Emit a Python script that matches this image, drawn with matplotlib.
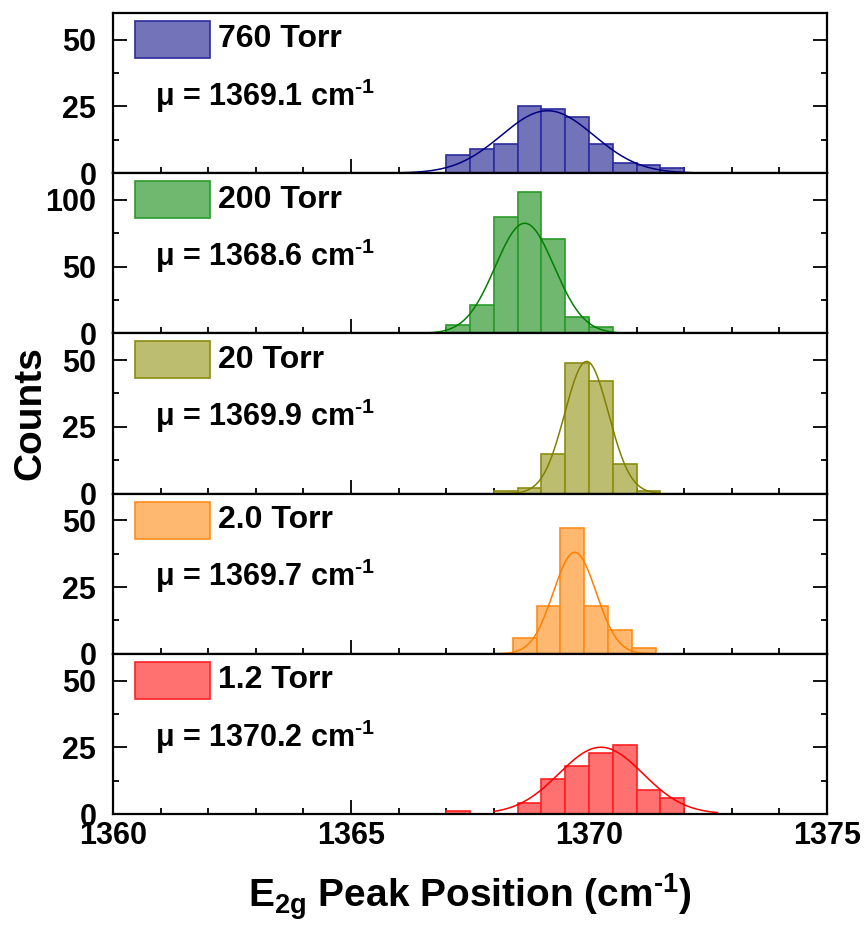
import numpy as np
import matplotlib
matplotlib.use("Agg")
import matplotlib.pyplot as plt
from matplotlib.patches import Rectangle
from matplotlib.ticker import MultipleLocator

plt.rcParams['font.family'] = ['Liberation Sans', 'DejaVu Sans']
plt.rcParams['font.weight'] = 'bold'
plt.rcParams['mathtext.fontset'] = 'custom'
plt.rcParams['mathtext.rm'] = 'Liberation Sans:bold'
plt.rcParams['mathtext.it'] = 'Liberation Sans:bold'
plt.rcParams['mathtext.bf'] = 'Liberation Sans:bold'
plt.rcParams['mathtext.default'] = 'rm'

# ---- data ----
labels = ["760 Torr", "200 Torr", "20 Torr", "2.0 Torr", "1.2 Torr"]
mu_text = ["1369.1", "1368.6", "1369.9", "1369.7", "1370.2"]

centers_760 = [1367.25, 1367.75, 1368.25, 1368.75, 1369.25, 1369.75, 1370.25, 1370.75, 1371.25, 1371.75]
counts_760 = [7, 9, 11, 25, 24, 21, 11, 4, 3, 2]

centers_200 = [1367.25, 1367.75, 1368.25, 1368.75, 1369.25, 1369.75, 1370.25]
counts_200 = [6, 21, 87, 106, 71, 12, 5]

centers_20 = [1368.25, 1368.75, 1369.25, 1369.75, 1370.25, 1370.75, 1371.25]
counts_20 = [1, 2, 15, 49, 42, 11, 1]

centers_2 = [1368.65, 1369.15, 1369.65, 1370.15, 1370.65, 1371.15]
counts_2 = [6, 18, 47, 18, 9, 2]

centers_12 = [1367.25, 1368.75, 1369.25, 1369.75, 1370.25, 1370.75, 1371.25, 1371.75]
counts_12 = [1, 4, 13, 18, 23, 26, 9, 6]

# Gaussian fit parameters (centre, width, amplitude) and drawn range
fit_mu = [1369.13, 1368.65, 1369.95, 1369.70, 1370.25]
fit_sigma = [0.97, 0.62, 0.46, 0.45, 0.88]
fit_amp = [23.4, 82.5, 49.5, 38.0, 25.0]
fit_lo = [1366.0, 1366.2, 1368.0, 1368.0, 1368.0]
fit_hi = [1372.3, 1371.1, 1371.5, 1371.35, 1372.7]

ylims = [60, 120, 60, 60, 60]
ymajor = [25, 50, 25, 25, 25]
xticks = [1360, 1365, 1370, 1375]

face_colors = ["#7373B9", "#70B870", "#BDBD70", "#FFB870", "#FF7070"]
edge_colors = ["#2B2BA0", "#2A9A2A", "#8C8C10", "#FF8C1A", "#FF2020"]
line_colors = ["#000080", "#008000", "#808000", "#FF8000", "#FF0000"]

centers = [centers_760, centers_200, centers_20, centers_2, centers_12]
counts = [counts_760, counts_200, counts_20, counts_2, counts_12]
bin_width = 0.5

fig = plt.figure(figsize=(8.65, 9.3), dpi=100)
left, right, bottom, top = 113 / 865, 827 / 865, 1 - 814 / 930, 1 - 13 / 930
axes = fig.subplots(5, 1, sharex=True, gridspec_kw=dict(hspace=0))
fig.subplots_adjust(left=left, right=right, bottom=bottom, top=top)

h = 160.4
w = 714.0
for i, ax in enumerate(axes):
    ax.bar(centers[i], counts[i], width=bin_width, color=face_colors[i],
           edgecolor=edge_colors[i], linewidth=1.2, zorder=2)
    xs = np.linspace(fit_lo[i], fit_hi[i], 400)
    ys = fit_amp[i] * np.exp(-(xs - fit_mu[i]) ** 2 / (2 * fit_sigma[i] ** 2))
    ax.plot(xs, ys, color=line_colors[i], linewidth=1.1, zorder=3)

    ax.set_xlim(1360, 1375)
    ax.set_ylim(0, ylims[i])
    ax.yaxis.set_major_locator(MultipleLocator(ymajor[i]))
    ax.yaxis.set_minor_locator(MultipleLocator(ymajor[i] / 2))
    ax.set_xticks(xticks)
    ax.xaxis.set_minor_locator(MultipleLocator(1))
    ax.tick_params(axis='both', which='both', direction='in', top=False, right=True,
                   labelsize=22, width=1.3)
    ax.tick_params(axis='both', which='major', length=10)
    ax.tick_params(axis='both', which='minor', length=4.5)
    ax.tick_params(axis='y', pad=12)
    ax.tick_params(axis='x', pad=5)
    for lab in ax.get_yticklabels() + ax.get_xticklabels():
        lab.set_fontweight('bold')
    for sp in ax.spines.values():
        sp.set_linewidth(1.6)

    # legend swatch and label
    ax.add_patch(Rectangle((22 / w, 1 - 45 / h), 75 / w, 37 / h, transform=ax.transAxes,
                           facecolor=face_colors[i], edgecolor=edge_colors[i],
                           linewidth=1.2, zorder=4, clip_on=False))
    ax.text(105 / w, 1 - 26.5 / h, labels[i], transform=ax.transAxes, fontsize=23,
            fontweight='bold', va='center', ha='left')
    ax.text(42 / w, 1 - 93 / h, "μ = " + mu_text[i] + " cm$^{\u20101}$", transform=ax.transAxes,
            fontsize=22, fontweight='bold', va='baseline', ha='left')

fig.text(30 / 865, 1 - 413 / 930, "Counts", rotation=90, fontsize=28, fontweight='bold',
         ha='center', va='center')
fig.text((left + right) / 2, 1 - 908 / 930, "E$_{2g}$ Peak Position (cm$^{\u20101}$)",
         fontsize=28, fontweight='bold', ha='center', va='baseline')

fig.savefig("out.png", dpi=100)
